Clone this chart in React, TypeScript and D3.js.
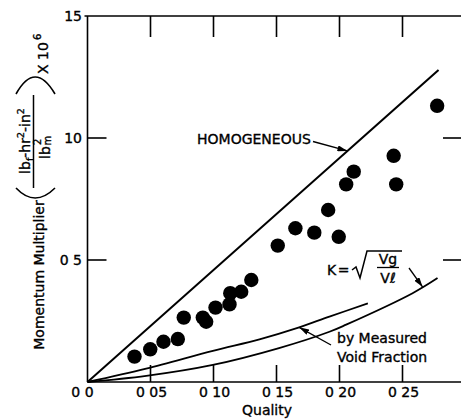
import React from "react";
import * as d3 from "d3";

// ---- data ----
const qualityPts = [0.0373, 0.0498, 0.0603, 0.0717, 0.0764, 0.0915, 0.0942, 0.1016, 0.1127, 0.1133, 0.122, 0.130, 0.151, 0.165, 0.180, 0.191, 0.1994, 0.2053, 0.2113, 0.243, 0.245, 0.2775];
const multPts = [0.104, 0.134, 0.165, 0.176, 0.264, 0.264, 0.247, 0.305, 0.318, 0.364, 0.370, 0.418, 0.559, 0.630, 0.612, 0.705, 0.595, 0.810, 0.862, 0.927, 0.810, 1.132];

const homX = [0, 0.2786];
const homY = [0, 1.279];

const voidX = [0, 0.0466, 0.0995, 0.1365, 0.168, 0.192, 0.2225];
const voidY = [0, 0.055, 0.128, 0.175, 0.224, 0.268, 0.322];

const kX = [0, 0.0466, 0.0995, 0.152, 0.192, 0.2053, 0.258, 0.2778];
const kY = [0, 0.025, 0.07, 0.139, 0.206, 0.235, 0.364, 0.426];

const xTicks = [0.05, 0.1, 0.15, 0.2, 0.25];
const xTickLabels = ["0 05", "0 10", "0 15", "0 20", "0 25"];
const yTicks = [0.5, 1.0];
const yTickVals = [1.5, 1.0, 0.5];
const yTickLabels = ["15", "10", "0 5"];
const originLabel = "0 0";

const W = 461;
const H = 420;
const FONT = "'DejaVu Sans', sans-serif";

export default function App() {
  const x = d3.scaleLinear().domain([0, 0.3]).range([87.5, 465.5]);
  const y = d3.scaleLinear().domain([0, 1.5]).range([382, 16]);
  const left = x(0);
  const right = 463;
  const top = y(1.5);
  const bottom = y(0);

  const line = d3
    .line<[number, number]>()
    .x((d) => x(d[0]))
    .y((d) => y(d[1]))
    .curve(d3.curveCatmullRom.alpha(0.5));
  const hom = line(homX.map((v, i) => [v, homY[i]]));
  const voidL = line(voidX.map((v, i) => [v, voidY[i]]));
  const kL = line(kX.map((v, i) => [v, kY[i]]));

  // arrow tips anchored on curves
  const homTipX = 0.2063;
  const homTip = [x(homTipX), y((homY[1] / homX[1]) * homTipX)];
  const voidInterp = d3.scaleLinear().domain(voidX).range(voidY);
  const kInterp = d3.scaleLinear().domain(kX).range(kY);
  const voidTip = [x(0.168), y(voidInterp(0.168))];
  const kTip = [x(0.266), y(kInterp(0.266))];

  const textStroke = { stroke: "#000", strokeWidth: 0.35 };

  return (
    <svg
      width={W}
      height={H}
      style={{ position: "absolute", left: 0, top: 0, background: "#fff" }}
      fontFamily={FONT}
    >
      <defs>
        <marker id="ah" viewBox="0 0 10 6" refX="10" refY="3" markerWidth="10" markerHeight="6" orient="auto" markerUnits="userSpaceOnUse">
          <path d="M0,0 L10,3 L0,6 Z" fill="#000" />
        </marker>
      </defs>
      <rect x={0} y={0} width={W} height={H} fill="#fff" />

      {/* frame */}
      <g stroke="#000" strokeWidth={1.6} fill="none">
        <line x1={left} y1={top} x2={left} y2={bottom} />
        <line x1={left - 3} y1={top} x2={right} y2={top} />
        <line x1={left} y1={bottom} x2={right} y2={bottom} />
        <line x1={right} y1={top} x2={right} y2={bottom} />
        {xTicks.map((t) => (
          <g key={"xt" + t}>
            <line x1={x(t)} x2={x(t)} y1={top} y2={top + 21} />
            <line x1={x(t)} x2={x(t)} y1={bottom} y2={bottom - 17} />
          </g>
        ))}
        {yTicks.map((t) => (
          <g key={"yt" + t}>
            <line x1={left} x2={left + 19} y1={y(t)} y2={y(t)} />
            <line x1={right} x2={right - 20} y1={y(t)} y2={y(t)} />
          </g>
        ))}
      </g>

      {/* tick labels */}
      <g fontSize={14} fill="#000" {...textStroke}>
        {xTicks.map((t, i) => (
          <text key={"xl" + t} x={x(t) + 1} y={397} textAnchor="middle">
            {xTickLabels[i]}
          </text>
        ))}
        <text x={left - 5} y={397} textAnchor="middle">{originLabel}</text>
        {yTickVals.map((t, i) => (
          <text key={"yl" + t} x={82} y={y(t)} dy="0.36em" textAnchor="end">
            {yTickLabels[i]}
          </text>
        ))}
        <text x={267} y={415} textAnchor="middle">Quality</text>
      </g>

      {/* y axis title */}
      <g fill="#000" {...textStroke}>
        <text transform="translate(44,275) rotate(-90)" fontSize={14} textAnchor="middle">
          Momentum Multiplier
        </text>
        <text transform="translate(30,141) rotate(-90)" fontSize={14} textAnchor="middle">
          <tspan>lb</tspan>
          <tspan fontSize={9.5} dy={3}>f</tspan>
          <tspan dy={-3}>-hr</tspan>
          <tspan fontSize={9.5} dy={-6}>2</tspan>
          <tspan dy={6}>-in</tspan>
          <tspan fontSize={9.5} dy={-6}>2</tspan>
        </text>
      </g>
      <line x1={33.5} x2={33.5} y1={95} y2={188} stroke="#000" strokeWidth={1.5} />
      <g transform="translate(50,159) rotate(-90)" fill="#000" {...textStroke}>
        <text x={0} y={0} fontSize={14}>lb</text>
        <text x={13.5} y={1} fontSize={10}>m</text>
        <text x={14} y={-9} fontSize={10}>2</text>
      </g>
      <path d="M16,188 Q35,208 55,188" fill="none" stroke="#000" strokeWidth={1.6} />
      <path d="M16,94 Q35,60 55,94" fill="none" stroke="#000" strokeWidth={1.6} />
      <g transform="translate(48,74) rotate(-90)" fill="#000" {...textStroke}>
        <text x={0} y={0} fontSize={14}>X 10</text>
        <text x={34} y={-7} fontSize={10}>6</text>
      </g>

      {/* curves */}
      <g fill="none" stroke="#000">
        <path d={hom || ""} strokeWidth={2} />
        <path d={voidL || ""} strokeWidth={1.8} />
        <path d={kL || ""} strokeWidth={1.8} />
      </g>

      {/* data points */}
      <g fill="#000">
        {qualityPts.map((q, i) => (
          <circle key={"p" + i} cx={x(q)} cy={y(multPts[i])} r={7.2} />
        ))}
      </g>

      {/* annotations */}
      <g fill="#000" fontSize={14}>
        <text x={197} y={144} {...textStroke}>HOMOGENEOUS</text>
        <line x1={313} y1={141.5} x2={homTip[0]} y2={homTip[1]} stroke="#000" strokeWidth={1.3} markerEnd="url(#ah)" />

        <text x={327} y={275} {...textStroke}>
          K<tspan dx={1.5}>=</tspan>
        </text>
        <path d="M352,270 L356,267 L360,278 L367,251 L402,251" fill="none" stroke="#000" strokeWidth={1.5} />
        <text x={388} y={264} textAnchor="middle" {...textStroke}>Vg</text>
        <line x1={377} x2={399} y1={267.5} y2={267.5} stroke="#000" strokeWidth={1.3} />
        <text x={388} y={283} textAnchor="middle" {...textStroke}>V{"\u2113"}</text>
        <line x1={409} y1={268} x2={kTip[0]} y2={kTip[1]} stroke="#000" strokeWidth={1.3} markerEnd="url(#ah)" />

        <text x={337} y={343} {...textStroke}>by Measured</text>
        <text x={337} y={362} {...textStroke}>Void Fraction</text>
        <line x1={331} y1={345} x2={voidTip[0]} y2={voidTip[1]} stroke="#000" strokeWidth={1.3} markerEnd="url(#ah)" />
      </g>
    </svg>
  );
}
